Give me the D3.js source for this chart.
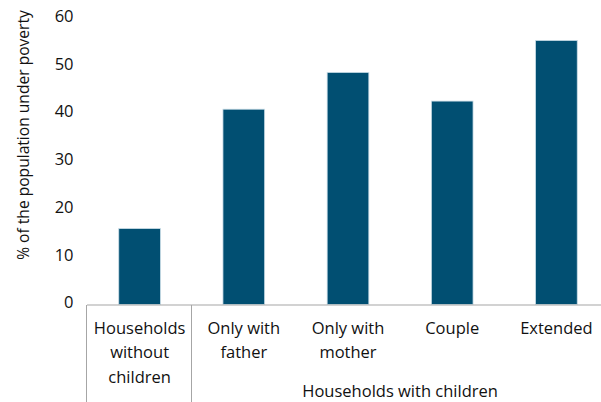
<!DOCTYPE html>
<html>
<head>
<meta charset="utf-8">
<script src="https://cdn.jsdelivr.net/npm/d3@7"></script>
<style>
  html, body { margin: 0; padding: 0; background: #fff; }
  svg { display: block; }
  text { font-family: "Open Sans", "Noto Sans", sans-serif; fill: #111; }
</style>
</head>
<body>
<svg id="chart" width="601" height="402"></svg>
<script>
const categories = ["Households without children", "Only with father", "Only with mother", "Couple", "Extended"];
const categoryLines = [["Households", "without", "children"], ["Only with", "father"], ["Only with", "mother"], ["Couple"], ["Extended"]];
const values = [15.9, 40.9, 48.6, 42.6, 55.3];
const yTicks = [0, 10, 20, 30, 40, 50, 60];
const groupLabel = "Households with children";
const groupMembers = ["Only with father", "Only with mother", "Couple", "Extended"];
const yTitle = "% of the population under poverty";

const svg = d3.select("#chart");
const W = 601, H = 402;
const x0 = 87.5, x1 = 608.5;
const yBase = 304.5, yTop = 18;

const x = d3.scaleBand().domain(categories).range([x0, x1]).paddingInner(0.6).paddingOuter(0.3);
const y = d3.scaleLinear().domain([0, 60]).range([yBase, yTop]);

// bars
svg.append("g").selectAll("rect").data(values).join("rect")
  .attr("x", (d, i) => x(categories[i]))
  .attr("y", d => y(d))
  .attr("width", x.bandwidth())
  .attr("height", d => y(0) - y(d))
  .attr("fill", "#014f72")
  .attr("stroke", "#c9dce6")
  .attr("stroke-width", 0.8);

// y axis labels
const yAxis = d3.axisLeft(y).tickValues(yTicks).tickSize(0).tickPadding(14).tickFormat(d3.format("d"));
const gy = svg.append("g").attr("transform", `translate(${x0},0)`).call(yAxis);
gy.select(".domain").remove();
gy.selectAll("text").style("font-size", "16.5px").style("font-family", "'Open Sans', sans-serif").attr("fill", "#111").attr("dy", "0.2em");

// x axis line
svg.append("line")
  .attr("x1", x0 - 0.5).attr("x2", W).attr("y1", 305).attr("y2", 305)
  .attr("stroke", "#a6a6a6").attr("stroke-width", 1.2);

// box separators
const step = x.step();
function bandStart(c) { return x(c) - (step - x.bandwidth()) / 2; }
const sepXs = [bandStart(categories[0]), bandStart(categories[1])];
svg.append("g").selectAll("line").data(sepXs).join("line")
  .attr("x1", d => Math.round(d) - 0.5).attr("x2", d => Math.round(d) - 0.5)
  .attr("y1", 305).attr("y2", H)
  .attr("stroke", "#a6a6a6").attr("stroke-width", 1);

// category labels
const gx = svg.append("g");
categories.forEach((c, i) => {
  const cx = x(c) + x.bandwidth() / 2;
  const t = gx.append("text").attr("text-anchor", "middle").style("font-size", "16.5px");
  categoryLines[i].forEach((ln, j) => {
    t.append("tspan").attr("x", cx).attr("y", 333.5 + j * 24.5).text(ln);
  });
});

// group label
const gStart = x(groupMembers[0]) + x.bandwidth() / 2;
const gEnd = x(groupMembers[groupMembers.length - 1]) + x.bandwidth() / 2;
svg.append("text")
  .attr("x", (gStart + gEnd) / 2).attr("y", 397)
  .attr("text-anchor", "middle").style("font-size", "16.5px")
  .text(groupLabel);

// y title
svg.append("text")
  .attr("transform", `translate(29,135) rotate(-90)`)
  .attr("text-anchor", "middle").style("font-size", "15.6px")
  .text(yTitle);
</script>
</body>
</html>
